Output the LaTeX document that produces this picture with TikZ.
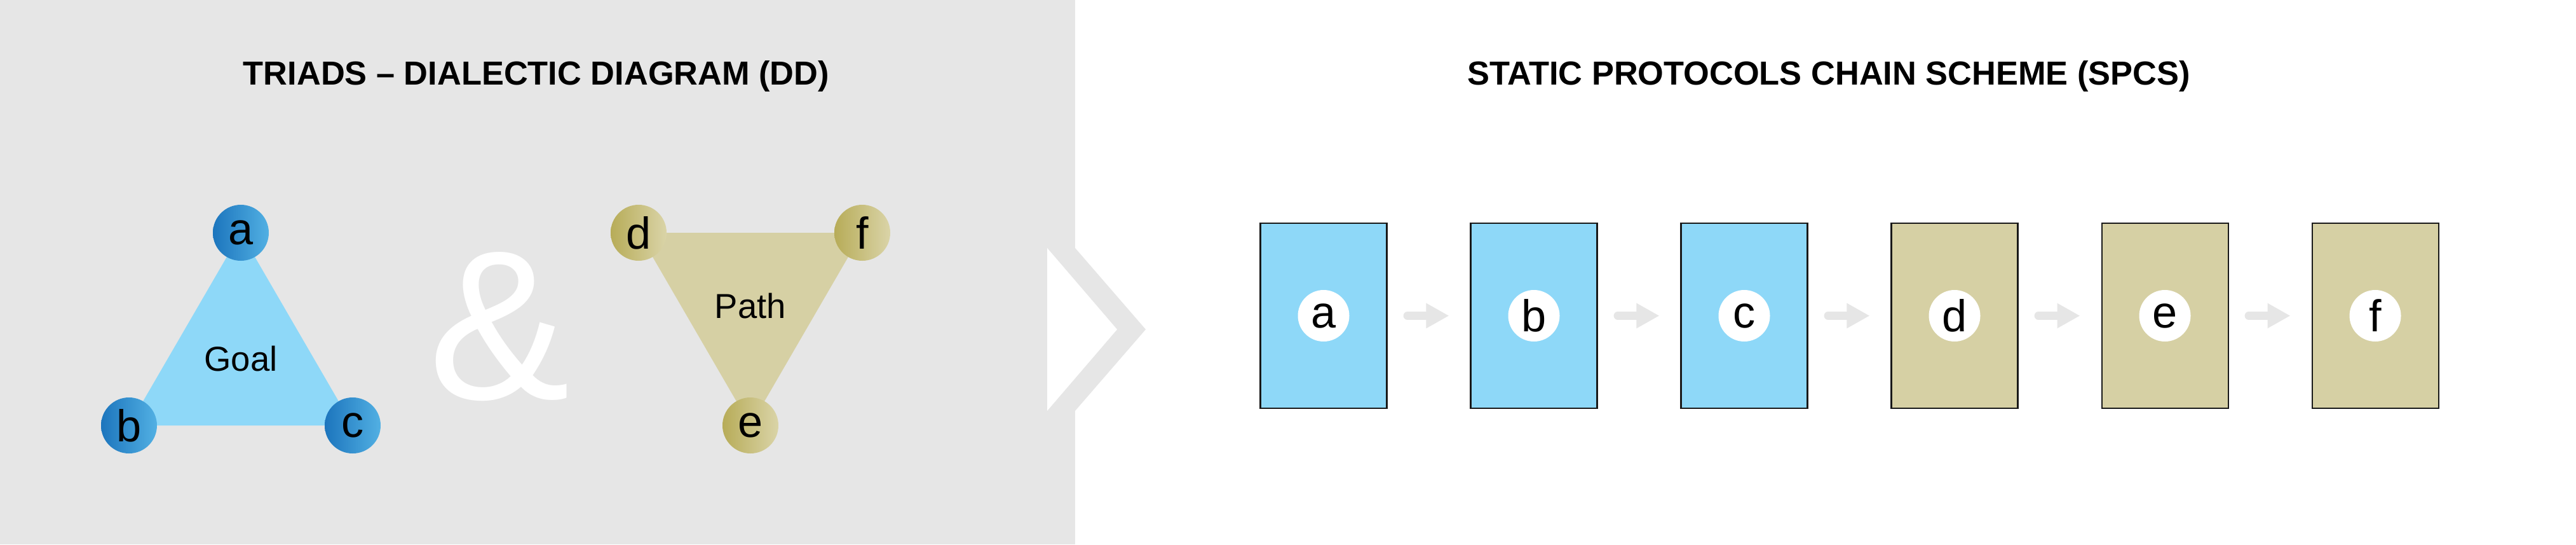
\documentclass[tikz,border=0pt]{standalone}
\usepackage{fontspec}
\setmainfont{Liberation Sans}
\usetikzlibrary{arrows.meta}

\definecolor{panelgray}{HTML}{E6E6E6}
\definecolor{goalblue}{HTML}{8ED8F8}
\definecolor{darkblue}{HTML}{1C75BD}
\definecolor{midblue}{HTML}{52B0E3}
\definecolor{pathtan}{HTML}{D6D0A4}
\definecolor{darkolive}{HTML}{B7AC58}
\definecolor{lightolive}{HTML}{DAD4A8}

\begin{document}
\begin{tikzpicture}[
	bluedot/.style={circle,inner sep=0pt,minimum size=0.88cm,left color=darkblue,right color=midblue,font=\fontsize{20}{20}\selectfont},
	olivedot/.style={circle,inner sep=0pt,minimum size=0.88cm,left color=darkolive,right color=lightolive,font=\fontsize{20}{20}\selectfont},
	protbox/.style={draw=black!90,line width=0.6pt,minimum width=1.99cm,minimum height=2.91cm,inner sep=0pt},
	letterdot/.style={circle,fill=white,inner sep=0pt,minimum size=0.81cm,font=\fontsize{20}{20}\selectfont},
	flow/.style={draw=panelgray,line width=0.13cm,line cap=round,-{Triangle[length=0.36cm,width=0.37cm]},shorten <=0.315cm,shorten >=0.33cm},
	paneltitle/.style={anchor=base,font=\bfseries\fontsize{14.9}{16}\selectfont},
	triadtext/.style={anchor=base,font=\fontsize{15.5}{16}\selectfont}
]

\useasboundingbox (0,0) rectangle (40.54,8.56);
\fill[white] (0,0) rectangle (40.54,8.56);
\fill[panelgray] (0,0) rectangle (16.92,8.56);

% chevron
\fill[panelgray] (16.92,4.66) -- (18.03,3.38) -- (16.92,2.10) -- cycle;
\fill[white] (16.48,4.66) -- (17.58,3.38) -- (16.48,2.10) -- cycle;

\node[paneltitle] (ddtitle) at (8.44,7.23) {TRIADS – DIALECTIC DIAGRAM (DD)};
\node[paneltitle] (spcstitle) at (28.78,7.23) {STATIC PROTOCOLS CHAIN SCHEME (SPCS)};

% goal triad
\coordinate (ga) at (3.79,4.90);
\coordinate (gb) at (2.03,1.87);
\coordinate (gc) at (5.55,1.87);
\fill[goalblue] (ga) -- (gb) -- (gc) -- cycle;
\node[triadtext] (goal) at (3.79,2.73) {Goal};
\foreach \n in {a,b,c}
	\node[bluedot] (dot\n) at (g\n) {\n};

\node[white,font=\fontsize{95}{95}\selectfont] (amp) at (7.86,3.42) {\&};

% path triad
\coordinate (pd) at (10.05,4.90);
\coordinate (pf) at (13.57,4.90);
\coordinate (pe) at (11.81,1.87);
\fill[pathtan] (pd) -- (pf) -- (pe) -- cycle;
\node[triadtext] (path) at (11.81,3.56) {Path};
\foreach \n in {d,e,f}
	\node[olivedot] (dot\n) at (p\n) {\n};

% protocols chain
\foreach \n/\x/\col in {a/20.83/goalblue,b/24.14/goalblue,c/27.45/goalblue,d/30.76/pathtan,e/34.07/pathtan,f/37.38/pathtan}{
	\node[protbox,fill=\col] (box\n) at (\x,3.595) {};
	\node[letterdot] (inner\n) at (box\n) {\n};
}
\foreach \s/\t in {a/b,b/c,c/d,d/e,e/f}
	\draw[flow] (box\s) -- (box\t);

\end{tikzpicture}
\end{document}
